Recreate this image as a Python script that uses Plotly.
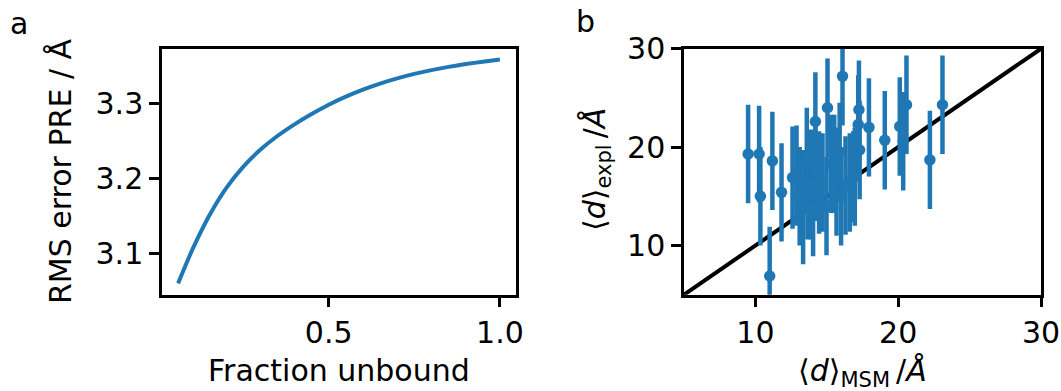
import plotly.graph_objects as go

# ---------------- data ----------------
# panel a: RMS error vs fraction unbound
frac_unbound = [0.06, 0.10, 0.15, 0.20, 0.25, 0.30, 0.35, 0.40, 0.45, 0.50,
                0.55, 0.60, 0.65, 0.70, 0.75, 0.80, 0.85, 0.90, 0.95, 1.00]
rms_error = [3.061, 3.104, 3.150, 3.187, 3.2155, 3.238, 3.2563, 3.2718, 3.2855, 3.2978,
             3.3085, 3.3178, 3.3258, 3.3327, 3.3386, 3.3436, 3.3479, 3.3516, 3.3548, 3.3576]

# panel b: <d>_MSM vs <d>_expl with error bars
d_msm = [9.49, 10.26, 10.35, 11.19, 11.0, 11.83, 12.6, 14.2, 15.05, 16.1,
         17.25, 17.2, 17.95, 17.3, 19.06, 20.11, 20.35, 20.58, 22.22, 23.1,
         12.88, 13.1, 13.34, 13.6, 13.65, 13.88, 14.04, 14.2, 14.46, 14.7,
         14.98, 15.3, 15.52, 15.68, 15.9, 16.0, 16.31, 16.61, 16.85, 16.96]
d_expl = [19.3, 19.3, 15.0, 18.6, 6.9, 15.4, 16.9, 22.6, 24.0, 27.2,
          23.8, 22.3, 22.0, 19.7, 20.7, 22.1, 20.6, 24.3, 18.7, 24.3,
          17.1, 15.0, 13.9, 19.0, 15.6, 16.2, 13.9, 17.5, 16.4, 16.4,
          14.0, 18.3, 18.3, 16.5, 19.5, 15.0, 16.1, 16.4, 17.0, 17.0]
d_err = [5.0, 4.9, 5.0, 5.0, 5.0, 5.0, 5.2, 5.0, 5.0, 5.0,
         5.0, 5.0, 5.0, 5.0, 5.0, 5.0, 5.0, 5.0, 5.0, 5.0,
         5.1, 5.0, 5.8, 5.0, 5.0, 5.6, 5.0, 5.0, 5.2, 5.0,
         5.0, 5.0, 5.0, 5.5, 5.0, 5.0, 5.0, 5.0, 4.6, 5.0]

diag = [5, 30]

xa_range = [0.013, 1.047]
ya_range = [3.046, 3.372]
xa_ticks = [0.5, 1.0]
xa_labels = ["0.5", "1.0"]
ya_ticks = [3.1, 3.2, 3.3]
ya_labels = ["3.1", "3.2", "3.3"]

b_range = [5, 30]
b_ticks = [10, 20, 30]
b_labels = ["10", "20", "30"]

# ---------------- figure ----------------
W, H = 1061, 391
BLUE = "#1f77b4"
FONT = "DejaVu Sans"
FS = 30

fig = go.Figure()

fig.add_trace(go.Scatter(x=frac_unbound, y=rms_error, mode="lines",
                         line=dict(color=BLUE, width=4, shape="spline", smoothing=0.7),
                         xaxis="x", yaxis="y", showlegend=False, hoverinfo="skip"))

fig.add_trace(go.Scatter(x=diag, y=diag, mode="lines",
                         line=dict(color="black", width=4),
                         xaxis="x2", yaxis="y2", showlegend=False, hoverinfo="skip"))

fig.add_trace(go.Scatter(x=d_msm, y=d_expl, mode="markers",
                         marker=dict(color=BLUE, size=11.5, line=dict(width=0)),
                         error_y=dict(type="data", array=d_err, visible=True,
                                      color=BLUE, thickness=4.5, width=0),
                         xaxis="x2", yaxis="y2", showlegend=False, hoverinfo="skip"))

ydom = [(H - 294.7) / H, (H - 48.7) / H]

axis_common = dict(showline=True, linecolor="black", linewidth=2.5, mirror=True,
                   ticks="outside", ticklen=10, tickwidth=2.5, tickcolor="black",
                   showgrid=False, zeroline=False, automargin=False,
                   tickfont=dict(family=FONT, size=FS, color="black"))

fig.update_layout(
    width=W, height=H, autosize=False,
    margin=dict(l=0, r=0, t=0, b=0, pad=0, autoexpand=False),
    paper_bgcolor="white", plot_bgcolor="white",
    showlegend=False,
    font=dict(family=FONT, size=FS, color="black"),
    xaxis=dict(domain=[162 / W, 516 / W], range=xa_range, tickvals=xa_ticks,
               ticktext=xa_labels, anchor="y", **axis_common),
    yaxis=dict(domain=ydom, range=ya_range, tickvals=ya_ticks,
               ticktext=ya_labels, anchor="x", **axis_common),
    xaxis2=dict(domain=[684 / W, 1041 / W], range=b_range, tickvals=b_ticks,
                ticktext=b_labels, anchor="y2", **axis_common),
    yaxis2=dict(domain=ydom, range=b_range, tickvals=b_ticks,
                ticktext=b_labels, anchor="x2", **axis_common),
)

def ann(text, x, y, angle=0, size=FS):
    fig.add_annotation(text=text, x=x / W, y=(H - y) / H, xref="paper", yref="paper",
                       showarrow=False, textangle=angle, xanchor="center", yanchor="middle",
                       font=dict(family=FONT, size=size, color="black"))

ann("RMS error PRE / Å", 60, 171, angle=-90)
ann("Fraction unbound", 339, 370)
ann("⟨<i>d</i>⟩<sub>expl</sub>\u2009/<i>Å</i>", 596, 170, angle=-90)
ann("⟨<i>d</i>⟩<sub>MSM</sub>\u2009/<i>Å</i>", 862, 372)
ann("a", 19, 24)
ann("b", 585, 22)

fig.write_html("out.html",
               post_script="document.body.style.margin='0';document.body.style.padding='0';")
